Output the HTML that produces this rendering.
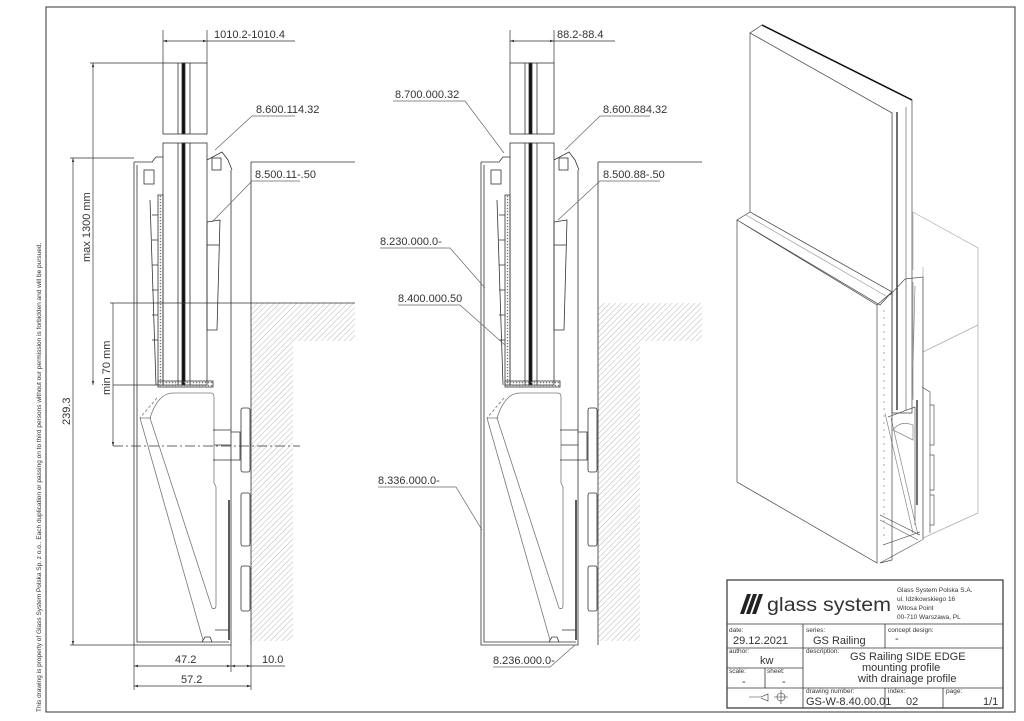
<!DOCTYPE html>
<html><head><meta charset="utf-8"><style>
html,body{margin:0;padding:0;background:#fff}
svg{display:block}
text{font-family:"Liberation Sans",sans-serif;fill:#333}
</style></head><body>
<svg width="1024" height="721" viewBox="0 0 1024 721" xmlns="http://www.w3.org/2000/svg">
<defs>
<pattern id="h" width="4" height="4" patternUnits="userSpaceOnUse" patternTransform="rotate(45)">
<line x1="0" y1="0" x2="0" y2="4" stroke="#999" stroke-width="0.7"/>
</pattern>
<pattern id="dt" width="3" height="3" patternUnits="userSpaceOnUse">
<circle cx="1.5" cy="1.5" r="0.8" fill="#777"/>
</pattern>
<marker id="a" viewBox="0 0 10 10" refX="10" refY="5" markerWidth="6" markerHeight="6" orient="auto-start-reverse"><path d="M0,2 L10,5 L0,8z" fill="#333"/></marker>
<g id="sec" fill="none" stroke="#333" stroke-width="0.8">
<rect x="251" y="303" width="104" height="38" fill="url(#h)" stroke="none"/>
<rect x="251" y="341" width="42" height="300" fill="url(#h)" stroke="none"/>
<path d="M251,162 H355 M251,162 V645"/>
<rect x="163" y="63" width="44" height="71"/>
<rect x="163" y="143" width="44" height="242"/>
<rect x="182" y="63" width="3" height="71" fill="#111"/>
<rect x="182" y="143" width="3" height="242" fill="#111"/>
<path d="M178,63 V134 M190,63 V134 M178,143 V385 M190,143 V385"/>
<path d="M134,162 V645 H231 V170 M137,165 V642 H229 M134,162 H152 L156,157 H163"/>
<path d="M207,160 L222,152 L228,160 L232,170"/>
<rect x="144" y="170" width="10" height="14"/>
<rect x="212" y="158" width="9" height="12"/>
<rect x="158" y="195" width="5" height="190" fill="url(#dt)"/>
<rect x="158" y="381" width="55" height="6" fill="url(#dt)"/>
<path d="M150,200 L156,385 M158,215 h-6 M158,240 h-6 M158,265 h-6 M158,290 h-6 M158,315 h-6 M158,340 h-6"/>
<path d="M207,222 L220,220 L217,330 L207,330 Z"/>
<path d="M207,245 H219"/>
<path d="M173,393 H211 Q214,393 214,397 V483 L216,487 V605 Q216,610 212,608 L150,418 Q158,393 173,393" stroke="#777"/>
<path d="M140,418 L203,640 M140,418 H151" stroke="#777"/>
<path d="M157,398 L140,418" stroke-dasharray="3,2" stroke="#777"/>
<path d="M213,430 H231 M213,460 H231 M231,432 H240 V460 H231" />
<path d="M214,445 H231"/>
<rect x="241" y="408" width="9" height="64" rx="2"/>
<rect x="241" y="493" width="9" height="53" rx="2"/>
<rect x="241" y="566" width="9" height="45" rx="2"/>
<path d="M229,500 V640" stroke-width="1.6"/>
<path d="M202,642 l3,-5 h5 l2,5 M215,630 h14"/>
</g>
</defs>

<rect x="46" y="7" width="969" height="705" fill="none" stroke="#333" stroke-width="1"/>
<text transform="translate(41,712) rotate(-90)" font-size="6.5">This drawing is property of Glass System Polska Sp. z o.o.. Each duplication or passing on to third persons without our permission is forbidden and will be pursued.</text>

<use href="#sec"/>
<use href="#sec" transform="translate(347,0)"/>

<g fill="none" stroke="#333" stroke-width="0.7">
<path d="M163,30 V63 M207,30 V63"/>
<path d="M163,41 H207" marker-start="url(#a)" marker-end="url(#a)"/>
<path d="M207,41 H295"/>
<path d="M90,63 H163 M70,158 H134 M110,303 H355 M113,385 H160"/>
<path d="M113,446 H300" stroke-dasharray="10,3,2,3"/>
<path d="M93,63 V385" marker-start="url(#a)" marker-end="url(#a)"/>
<path d="M73,158 V645" marker-start="url(#a)" marker-end="url(#a)"/>
<path d="M113,303 V446" marker-end="url(#a)"/>
<path d="M70,645 H134 M134,645 V690 M231,645 V672 M251,645 V690"/>
<path d="M134,666 H231" marker-start="url(#a)" marker-end="url(#a)"/>
<path d="M231,666 H251" marker-start="url(#a)" marker-end="url(#a)"/>
<path d="M251,666 H285"/>
<path d="M134,686 H251" marker-start="url(#a)" marker-end="url(#a)"/>
<path d="M295,116 H252 L215,150" stroke="#666"/>
<path d="M300,181 H252 L212,222" stroke="#666"/>
</g>
<text x="214" y="38" font-size="11">1010.2-1010.4</text>
<text x="256" y="113" font-size="11">8.600.114.32</text>
<text x="255" y="178" font-size="11">8.500.11-.50</text>
<text transform="translate(90,262) rotate(-90)" font-size="11">max 1300 mm</text>
<text transform="translate(110,395) rotate(-90)" font-size="11">min 70 mm</text>
<text transform="translate(70,425) rotate(-90)" font-size="11">239.3</text>
<text x="175" y="663" font-size="11">47.2</text>
<text x="262" y="663" font-size="11">10.0</text>
<text x="181" y="683" font-size="11">57.2</text>

<g fill="none" stroke="#333" stroke-width="0.7">
<path d="M510,30 V63 M554,30 V63"/>
<path d="M510,41 H554" marker-start="url(#a)" marker-end="url(#a)"/>
<path d="M554,41 H615"/>
<g stroke="#666">
<path d="M393,101 H465 L504,153"/>
<path d="M650,116 H600 L565,150"/>
<path d="M660,181 H600 L558,220"/>
<path d="M380,248 H450 L485,288"/>
<path d="M398,305 H460 L505,345"/>
<path d="M378,487 H456 L482,530"/>
<path d="M493,667 H550 L575,645"/>
</g>
</g>
<text x="395" y="98" font-size="11">8.700.000.32</text>
<text x="557" y="38" font-size="11">88.2-88.4</text>
<text x="603" y="113" font-size="11">8.600.884.32</text>
<text x="603" y="178" font-size="11">8.500.88-.50</text>
<text x="380" y="245" font-size="11">8.230.000.0-</text>
<text x="398" y="302" font-size="11">8.400.000.50</text>
<text x="378" y="484" font-size="11">8.336.000.0-</text>
<text x="493" y="664" font-size="11">8.236.000.0-</text>

<!-- isometric -->
<g fill="none" stroke="#aaa" stroke-width="0.7">
<path d="M913,212 L978,248 V513 L923,538"/>
<path d="M923,352 L978,325 M913,212 V270 M923,267 V540"/>
</g>
<g fill="#fff" stroke="#444" stroke-width="0.7">
<path d="M762,25 L912,100 V413 L892,413 V113 L750,33 Z"/>
<path d="M750,33 L892,113 V413 L892,292 L750,212 Z"/>
<path d="M762,25 L912,100" stroke="#111" stroke-width="1.5" fill="none"/>
<path d="M897,112 V410" stroke="#111" stroke-width="1.2" fill="none"/>
<path d="M906,107 V410" stroke="#666" fill="none"/>
</g>
<g fill="none" stroke="#555" stroke-width="0.7">
<path d="M890,295 L905,279 L923,277 V540"/>
<path d="M913,282 V400 M915,286 L912,405" stroke="#888"/>
<path d="M888,417 L915,407 L915,525" />
<path d="M885,413 L913,533 M891,418 L918,535" stroke="#888"/>
<path d="M893,430 Q900,420 913,425 V440 Z" stroke="#888"/>
<path d="M922,387 L930,392 V533 M930,405 h4 v40 h-4 M930,455 h4 v35 h-4 M930,495 h4 v30 h-4"/>
<path d="M917,400 V505" stroke="#111" stroke-width="1.2"/>
<path d="M880,563 L922,540 M880,515 L920,535 M880,520 L918,540 M883,545 L920,532" stroke="#666"/>
</g>
<g fill="#fff" stroke="#444" stroke-width="0.7">
<path d="M750,212 L892,292 L880,305 L737,220 Z"/>
<path d="M746,215 L886,296" fill="none" stroke="#999"/>
<path d="M737,220 L877,305 V563 L737,482 Z"/>
<path d="M877,305 L892,292 V560 L880,563" fill="none"/>
<path d="M884,310 V540" fill="none" stroke="#888" stroke-dasharray="2,5"/>
</g>

<!-- title block -->
<g fill="none" stroke="#333" stroke-width="0.8">
<rect x="727" y="580" width="276" height="128" stroke-width="1.2"/>
<path d="M727,624 H1003 M727,648 H1003 M727,668 H803 M727,688 H1003 M803,624 V708 M885,624 V648 M765,668 V688 M885,688 V708 M943,688 V708"/>
<path d="M749,697 h12 l7,-3 v7 l-7,-3 M774,697 h14 M781,690 v14" stroke-width="0.6"/>
<circle cx="781" cy="697" r="4" stroke-width="0.6"/>
</g>
<g fill="#222">
<path d="M740,614 L747,594 L751,594 L744,614 Z M746,614 L753,594 L757,594 L750,614 Z M752,614 L759,594 L763,594 L756,614 Z"/>
</g>
<text x="767" y="611" font-size="19" fill="#222" textLength="124" lengthAdjust="spacingAndGlyphs">glass system</text>
<g font-size="6.5">
<text x="897" y="592">Glass System Polska S.A.</text>
<text x="897" y="601">ul. Idzikowskiego 16</text>
<text x="897" y="610">Witosa Point</text>
<text x="897" y="619">00-710 Warszawa, PL</text>
<text x="729" y="632">date:</text>
<text x="806" y="632">series:</text>
<text x="888" y="632">concept design:</text>
<text x="729" y="653">author:</text>
<text x="806" y="653">description:</text>
<text x="729" y="673">scale:</text>
<text x="767" y="673">sheet:</text>
<text x="806" y="693">drawing number:</text>
<text x="888" y="693">index:</text>
<text x="946" y="693">page:</text>
</g>
<g font-size="11">
<text x="733" y="644">29.12.2021</text>
<text x="813" y="644">GS Railing</text>
<text x="895" y="642">-</text>
<text x="760" y="664">kw</text>
<text x="742" y="685">-</text>
<text x="782" y="685">-</text>
<text x="850" y="660">GS Railing SIDE EDGE</text>
<text x="862" y="671">mounting profile</text>
<text x="858" y="682">with drainage profile</text>
<text x="806" y="705">GS-W-8.40.00.01</text>
<text x="906" y="705">02</text>
<text x="983" y="705">1/1</text>
</g>
</svg>
</body></html>
